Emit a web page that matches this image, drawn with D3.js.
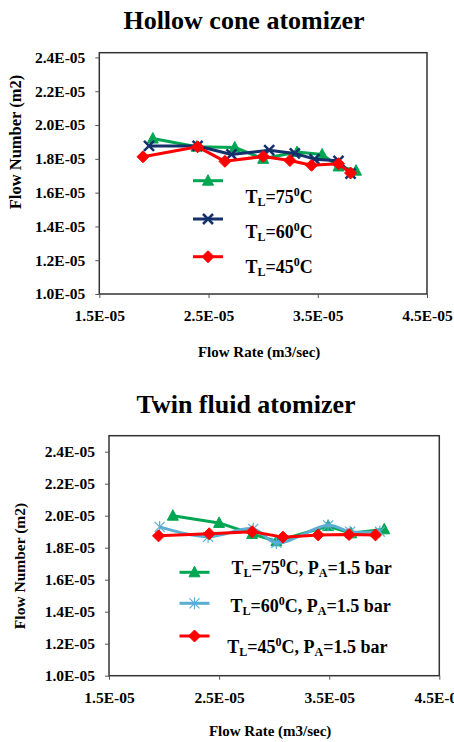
<!DOCTYPE html>
<html>
<head>
<meta charset="utf-8">
<script src="https://cdn.jsdelivr.net/npm/d3@7"></script>
<style>
  body { margin: 0; background: #fff; }
  svg { display: block; font-family: "Liberation Serif", "Times New Roman", serif; font-weight: bold; }
</style>
</head>
<body>
<svg id="chart" width="454" height="742"></svg>
<script>
// tick values and labels (shared by both panels)
const xTicks = [1.5e-5, 2.5e-5, 3.5e-5, 4.5e-5];
const xTickLabels = ['1.5E-05', '2.5E-05', '3.5E-05', '4.5E-05'];
const yTicks = [1.0e-5, 1.2e-5, 1.4e-5, 1.6e-5, 1.8e-5, 2.0e-5, 2.2e-5, 2.4e-5];
const yTickLabels = ['1.0E-05', '1.2E-05', '1.4E-05', '1.6E-05', '1.8E-05', '2.0E-05', '2.2E-05', '2.4E-05'];

// Hollow cone atomizer
const hollowRate75 = [1.99e-5, 2.39e-5, 2.74e-5, 3.00e-5, 3.31e-5, 3.54e-5, 3.69e-5, 3.85e-5];
const hollowFN75   = [1.92e-5, 1.872e-5, 1.867e-5, 1.80e-5, 1.84e-5, 1.826e-5, 1.755e-5, 1.73e-5];
const hollowRate60 = [1.955e-5, 2.40e-5, 2.71e-5, 3.055e-5, 3.29e-5, 3.47e-5, 3.69e-5, 3.80e-5];
const hollowFN60   = [1.876e-5, 1.876e-5, 1.826e-5, 1.851e-5, 1.832e-5, 1.798e-5, 1.788e-5, 1.712e-5];
const hollowRate45 = [1.90e-5, 2.40e-5, 2.65e-5, 3.00e-5, 3.245e-5, 3.443e-5, 3.69e-5, 3.80e-5];
const hollowFN45   = [1.812e-5, 1.871e-5, 1.785e-5, 1.814e-5, 1.79e-5, 1.762e-5, 1.771e-5, 1.716e-5];

// Twin fluid atomizer
const twinRate75 = [2.08e-5, 2.50e-5, 2.80e-5, 3.02e-5, 3.49e-5, 3.70e-5, 4.00e-5];
const twinFN75   = [2.00e-5, 1.955e-5, 1.886e-5, 1.84e-5, 1.935e-5, 1.89e-5, 1.915e-5];
const twinRate60 = [1.96e-5, 2.40e-5, 2.81e-5, 3.02e-5, 3.49e-5, 3.69e-5, 3.96e-5];
const twinFN60   = [1.93e-5, 1.868e-5, 1.918e-5, 1.83e-5, 1.94e-5, 1.90e-5, 1.90e-5];
const twinRate45 = [1.95e-5, 2.41e-5, 2.80e-5, 3.08e-5, 3.40e-5, 3.68e-5, 3.92e-5];
const twinFN45   = [1.874e-5, 1.887e-5, 1.90e-5, 1.866e-5, 1.88e-5, 1.882e-5, 1.88e-5];

const svg = d3.select('#chart');
const serif = '"Liberation Serif", "Times New Roman", serif';

const zip = (xs, ys) => xs.map((x, i) => ({ x: x, y: ys[i] }));

// marker shapes
function markerPath(kind) {
  if (kind === 'triangle') return 'M0,-6L5.5,4.5L-5.5,4.5Z';
  if (kind === 'diamond') return 'M0,-6L6,0L0,6L-6,0Z';
  if (kind === 'x') return 'M-5,-5L5,5M-5,5L5,-5';
  if (kind === 'star') return 'M-5,-5L5,5M-5,5L5,-5M0,-6L0,6';
}
const markerFill = (s) => (s.marker === 'x' || s.marker === 'star') ? 'none' : s.color;
const markerWidth = (s) => s.marker === 'star' ? 1.2 : (s.marker === 'x' ? 2.5 : 1);

function legendLabel(g, x, y, temp, withPA) {
  const t = g.append('text').attr('x', x).attr('y', y).attr('font-size', 18).attr('fill', '#000');
  t.append('tspan').text('T');
  t.append('tspan').attr('font-size', 12).attr('dy', 3).text('L');
  t.append('tspan').attr('dy', -3).text('=' + temp);
  t.append('tspan').attr('font-size', 12).attr('dy', -7).text('0');
  t.append('tspan').attr('dy', 7).text(withPA ? 'C, P' : 'C');
  if (withPA) {
    t.append('tspan').attr('font-size', 12).attr('dy', 3).text('A');
    t.append('tspan').attr('dy', -3).text('=1.5 bar');
  }
}

function drawPanel(cfg) {
  const g = svg.append('g');
  const x = d3.scaleLinear().domain([1.5e-5, 4.5e-5]).range([cfg.left, cfg.right]);
  const y = d3.scaleLinear().domain([1.0e-5, cfg.yMax]).range([cfg.bottom, cfg.top]);

  g.append('text').attr('x', cfg.titleX).attr('y', cfg.titleY)
    .attr('text-anchor', 'middle').attr('font-size', 26).text(cfg.title);

  g.append('rect').attr('x', cfg.left).attr('y', cfg.top)
    .attr('width', cfg.right - cfg.left).attr('height', cfg.bottom - cfg.top)
    .attr('fill', 'none').attr('stroke', '#333').attr('stroke-width', 1.5);

  const yAxis = g.append('g').attr('transform', `translate(${cfg.left},0)`)
    .call(d3.axisLeft(y).tickValues(yTicks).tickSize(4).tickPadding(10)
      .tickFormat((d, i) => yTickLabels[i]));
  const xAxis = g.append('g').attr('transform', `translate(0,${cfg.bottom})`)
    .call(d3.axisBottom(x).tickValues(xTicks).tickSize(4).tickPadding(12)
      .tickFormat((d, i) => xTickLabels[i]));
  [yAxis, xAxis].forEach(a => {
    a.attr('font-family', serif).attr('font-size', 15.5);
    a.select('.domain').remove();
    a.selectAll('line').attr('stroke', '#555');
    a.selectAll('text').attr('font-family', serif).attr('font-weight', 'bold')
      .attr('font-size', 15.5).attr('fill', '#000');
  });

  g.append('text').attr('x', (cfg.left + cfg.right) / 2 - 4).attr('y', cfg.xTitleY)
    .attr('text-anchor', 'middle').attr('font-size', 15).text('Flow Rate (m3/sec)');
  g.append('text')
    .attr('transform', `translate(${cfg.yTitleX},${cfg.yTitleY}) rotate(-90)`)
    .attr('text-anchor', 'middle').attr('font-size', cfg.yTitleSize).text('Flow Number (m2)');

  cfg.series.forEach(s => {
    const line = d3.line().x(d => x(d.x)).y(d => y(d.y));
    if (s.smooth) line.curve(d3.curveCatmullRom.alpha(0.5));
    g.append('path').datum(s.data).attr('d', line)
      .attr('fill', 'none').attr('stroke', s.color).attr('stroke-width', 3).attr('stroke-linejoin', 'round');
    g.selectAll(null).data(s.data).enter().append('path')
      .attr('transform', d => `translate(${x(d.x)},${y(d.y)})`)
      .attr('d', markerPath(s.marker))
      .attr('fill', markerFill(s))
      .attr('stroke', s.color).attr('stroke-width', markerWidth(s));
  });

  cfg.series.forEach((s, i) => {
    const ly = cfg.legendSymY[i];
    g.append('line').attr('x1', cfg.legendX).attr('x2', cfg.legendX + 30)
      .attr('y1', ly).attr('y2', ly).attr('stroke', s.color).attr('stroke-width', 3);
    g.append('path').attr('transform', `translate(${cfg.legendX + 15},${ly})`)
      .attr('d', markerPath(s.marker))
      .attr('fill', markerFill(s))
      .attr('stroke', s.color).attr('stroke-width', markerWidth(s));
    legendLabel(g, cfg.labelX[i], cfg.labelY[i], s.temp, cfg.withPA);
  });
}

drawPanel({
  title: 'Hollow cone atomizer', titleX: 244, titleY: 29,
  left: 99.3, right: 427, top: 52.7, bottom: 294, yMax: 2.428e-5,
  xTitleY: 357, yTitleX: 21, yTitleY: 142, yTitleSize: 16.5,
  legendX: 193, legendSymY: [180.7, 219, 256.7],
  labelX: [245.5, 245.5, 245.5], labelY: [203, 238, 272.5], withPA: false,
  series: [
    { data: zip(hollowRate75, hollowFN75), color: '#00a651', marker: 'triangle', temp: '75' },
    { data: zip(hollowRate60, hollowFN60), color: '#15306b', marker: 'x', temp: '60' },
    { data: zip(hollowRate45, hollowFN45), color: '#ff0000', marker: 'diamond', temp: '45' }
  ]
});

drawPanel({
  title: 'Twin fluid atomizer', titleX: 246, titleY: 412.5,
  left: 109, right: 439.3, top: 435.7, bottom: 675.7, yMax: 2.5e-5,
  xTitleY: 736, yTitleX: 25, yTitleY: 566, yTitleSize: 15.5,
  legendX: 179.5, legendSymY: [572.3, 603.3, 636],
  labelX: [231.5, 230.5, 227.3], labelY: [573.5, 611.5, 652.5], withPA: true,
  series: [
    { data: zip(twinRate75, twinFN75), color: '#00a651', marker: 'triangle', temp: '75' },
    { data: zip(twinRate60, twinFN60), color: '#5aaed4', marker: 'star', temp: '60', smooth: true },
    { data: zip(twinRate45, twinFN45), color: '#ff0000', marker: 'diamond', temp: '45' }
  ]
});
</script>
</body>
</html>
